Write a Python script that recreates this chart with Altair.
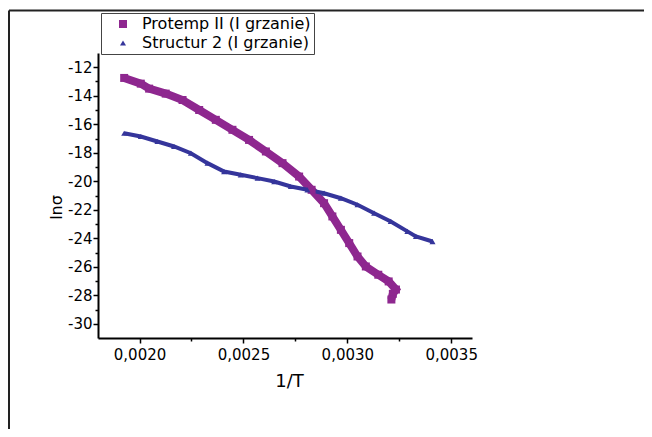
import altair as alt
import pandas as pd

series_names = ["Protemp II (I grzanie)", "Structur 2 (I grzanie)"]

prot_x = [0.001926, 0.002006, 0.002046, 0.002126, 0.002207, 0.002287, 0.002367, 0.002447,
          0.002527, 0.002608, 0.002688, 0.002768, 0.002828, 0.002888, 0.002928, 0.002969,
          0.003009, 0.003049, 0.003089, 0.003149, 0.003199, 0.003234, 0.003219, 0.003212]
prot_y = [-12.75, -13.15, -13.5, -13.85, -14.3, -15.0, -15.69, -16.39,
          -17.10, -17.91, -18.73, -19.67, -20.6, -21.54, -22.47, -23.41,
          -24.34, -25.28, -25.98, -26.56, -27.03, -27.6, -27.9, -28.3]

blue_x = [0.001926, 0.002006, 0.002086, 0.002166, 0.002247, 0.002327, 0.002407, 0.002487,
          0.002568, 0.002648, 0.002728, 0.002808, 0.002888, 0.002969, 0.003049, 0.003129,
          0.003209, 0.003289, 0.00333, 0.00341]
blue_y = [-16.63, -16.86, -17.21, -17.56, -18.03, -18.73, -19.32, -19.55,
          -19.78, -20.02, -20.37, -20.6, -20.84, -21.19, -21.65, -22.24,
          -22.82, -23.52, -23.87, -24.23]

x_ticks = [0.0020, 0.00225, 0.0025, 0.00275, 0.0030, 0.00325, 0.0035]
y_ticks = list(range(-30, -11))

colors = ["#8E278F", "#35359B"]
shapes = ["square", "triangle-up"]

rows = []
for i, (x, y) in enumerate(zip(prot_x, prot_y)):
    rows.append({"series": series_names[0], "x": x, "y": y, "i": i})
for i, (x, y) in enumerate(zip(blue_x, blue_y)):
    rows.append({"series": series_names[1], "x": x, "y": y, "i": i})
df = pd.DataFrame(rows)

xenc = alt.X("x:Q", scale=alt.Scale(domain=[0.0018, 0.0036], nice=False, zero=False),
             axis=alt.Axis(values=x_ticks, title="1/T",
                           labelExpr="abs(datum.value*2000 - round(datum.value*2000)) < 0.001 ? replace(format(datum.value, '.4f'), '.', ',') : ''",
                           tickSize={"condition": {"test": "abs(datum.value*2000 - round(datum.value*2000)) < 0.001", "value": 5}, "value": 3},
                           labelPadding=4, titleFontSize=18,
                           titleX=191, titleY=43, titleAlign="center", titleBaseline="middle"))
yenc = alt.Y("y:Q", scale=alt.Scale(domain=[-31, -11], nice=False, zero=False),
             axis=alt.Axis(values=y_ticks, title="lnσ",
                           labelExpr="datum.value % 2 == 0 ? '' + datum.value : ''",
                           tickSize={"condition": {"test": "datum.value % 2 == 0", "value": 5}, "value": 3},
                           labelPadding=1, titleFontSize=16,
                           titleX=-42, titleY=154, titleAlign="center", titleBaseline="middle"))

cscale = alt.Scale(domain=series_names, range=colors)

base = alt.Chart(df)

line_p = base.transform_filter(alt.datum.series == series_names[0]).mark_line(strokeWidth=8, color=colors[0]).encode(
    x=xenc, y=yenc, order="i:Q")
line_b = base.transform_filter(alt.datum.series == series_names[1]).mark_line(strokeWidth=4, color=colors[1]).encode(
    x=xenc, y=yenc, order="i:Q")

points = base.mark_point(filled=True, opacity=1).encode(
    x=xenc, y=yenc,
    color=alt.Color("series:N", scale=cscale,
                    legend=alt.Legend(orient="none", legendX=3, legendY=-40, title=None,
                                      labelExpr="datum.label + '\u00a0\u00a0\u00a0'")),
    shape=alt.Shape("series:N", scale=alt.Scale(domain=series_names, range=shapes)),
    size=alt.Size("series:N", scale=alt.Scale(domain=series_names, range=[64, 36]), legend=None),
)

frame_df = pd.DataFrame({"a": [0]})
frame_top = alt.Chart(frame_df).mark_rule(color="#222", strokeWidth=2).encode(
    x=alt.value(-89), x2=alt.value(560), y=alt.value(-42.5))
frame_left = alt.Chart(frame_df).mark_rule(color="#222", strokeWidth=2).encode(
    x=alt.value(-89), y=alt.value(-42.5), y2=alt.value(400))

chart = alt.layer(frame_top, frame_left, line_p, line_b, points).properties(
    width=374, height=285,
    padding={"left": 90, "top": 45, "right": 172, "bottom": 91},
    autosize=alt.AutoSizeParams(type="none"),
).configure_view(stroke=None).configure_axis(
    grid=False, domainColor="black", domainWidth=2, tickColor="black", tickWidth=1.5,
    labelFont="DejaVu Sans", labelFontSize=15, labelColor="black",
    titleFont="DejaVu Sans", titleFontWeight="normal", titleColor="black",
).configure_legend(
    strokeColor="#444", strokeWidth=1, fillColor="white", padding=3, rowPadding=3,
    labelFont="DejaVu Sans", labelFontSize=16, labelColor="black",
    symbolSize=45, symbolOffset=11, labelOffset=11, labelLimit=300,
)

chart.save("out.html", embed_options={"renderer": "svg", "actions": False})
